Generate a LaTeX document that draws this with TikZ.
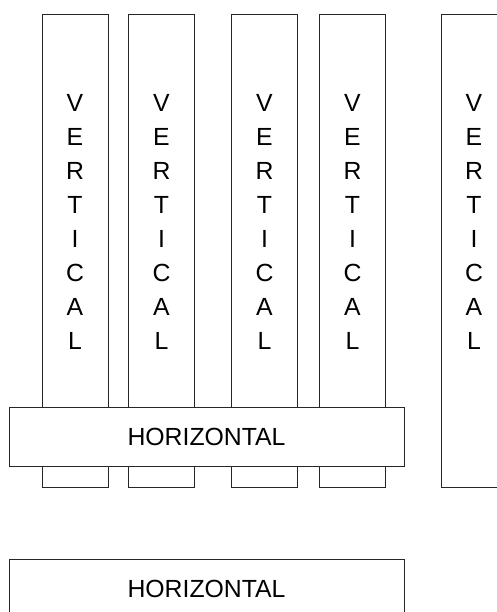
\documentclass[tikz,border=0pt]{standalone}
\usepackage{fontspec}
\setmainfont{Liberation Sans}
\begin{document}
\begin{tikzpicture}[x=1pt,y=-1pt,
  box/.style={draw=black!85,line width=0.9pt,rectangle,inner sep=0pt,outer sep=0pt},
  vbox/.style={box,minimum width=66pt,minimum height=473pt},
  hbox/.style={box,fill=white,minimum width=395pt,minimum height=59pt,font=\fontsize{24.8}{28}\selectfont},
  vtext/.style={align=center,inner sep=0pt,font=\fontsize{24.8}{34}\selectfont}]
\useasboundingbox (0,0) rectangle (497,612);
\clip (0,0) rectangle (497,612);
\node[vbox] (v1) at (75,250.5) {};
\node[vbox] (v2) at (161.5,250.5) {};
\node[vbox] (v3) at (264.5,250.5) {};
\node[vbox] (v4) at (352.5,250.5) {};
\node[vbox] (v5) at (474,250.5) {};
\foreach \n/\xx in {1/75,2/161.5,3/264.5,4/352.5,5/474}{
  \node[vtext] (t\n) at (\xx,222) {V\\E\\R\\T\\I\\C\\A\\L};
}
\node[hbox] (h1) at (206.5,436.5) {HORIZONTAL};
\node[hbox] (h2) at (206.5,588.5) {HORIZONTAL};
\end{tikzpicture}
\end{document}
